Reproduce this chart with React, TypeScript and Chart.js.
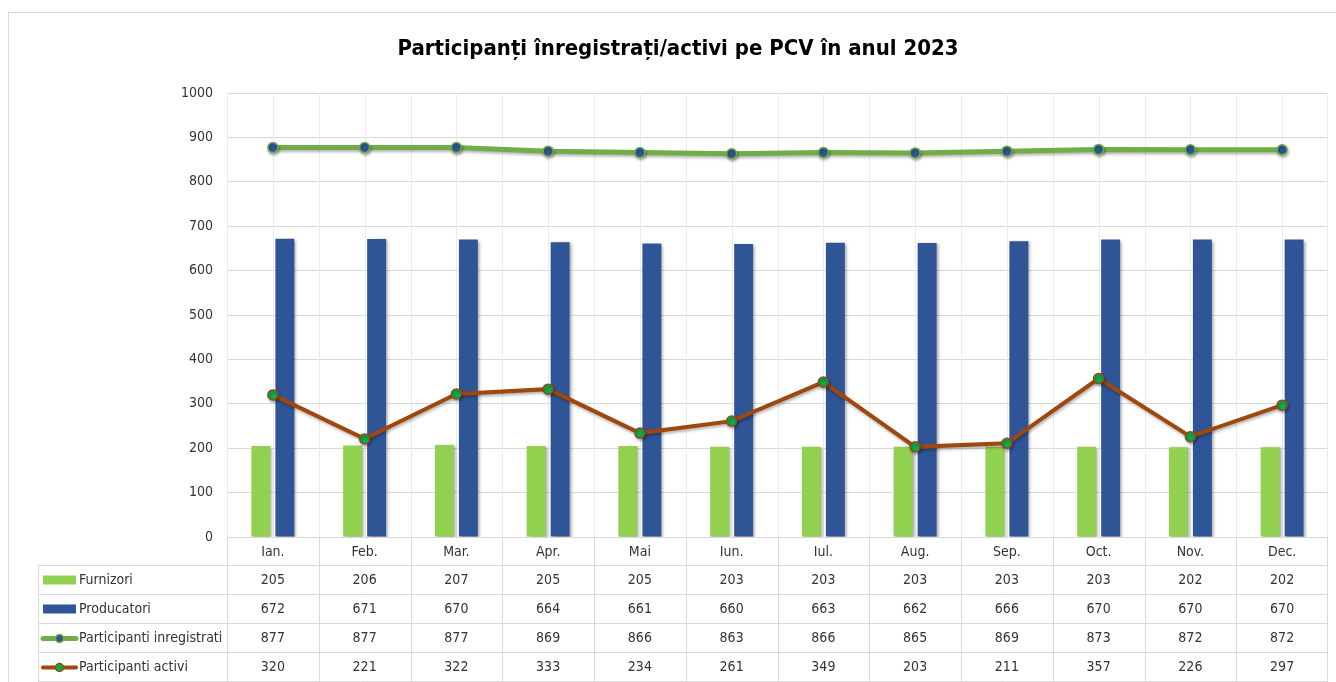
import React, { useEffect, useRef } from "react";
import { Chart, registerables } from "chart.js";

Chart.register(...registerables);

const TITLE = "Participanți înregistrați/activi pe PCV în anul 2023";
const months = ["Ian.", "Feb.", "Mar.", "Apr.", "Mai", "Iun.", "Iul.", "Aug.", "Sep.", "Oct.", "Nov.", "Dec."];
const furnizori = [205, 206, 207, 205, 205, 203, 203, 203, 203, 203, 202, 202];
const producatori = [672, 671, 670, 664, 661, 660, 663, 662, 666, 670, 670, 670];
const inregistrati = [877, 877, 877, 869, 866, 863, 866, 865, 869, 873, 872, 872];
const activi = [320, 221, 322, 333, 234, 261, 349, 203, 211, 357, 226, 297];
const seriesNames = ["Furnizori", "Producatori", "Participanti inregistrati", "Participanti activi"];
const yTicks = [0, 100, 200, 300, 400, 500, 600, 700, 800, 900, 1000];

const FONT = "'Liberation Sans Narrow', 'DejaVu Sans Condensed', Lato, sans-serif";
const GREEN_BAR = "#92D050";
const BLUE_BAR = "#2F5597";
const GREEN_LINE = "#70AD47";
const BROWN_LINE = "#9E480E";
const MARK_GREEN = "#00B050";
const TEXT = "#333333";
const GRID = "#d9d9d9";
const GRID_V = "#ebebeb";

const W = 1336;
const H = 682;

export default function App() {
  const ref = useRef<HTMLCanvasElement | null>(null);

  useEffect(() => {
    const canvas = ref.current;
    if (!canvas) return;
    document.body.style.overflow = "hidden";

    const shadowPlugin = {
      id: "shadows",
      beforeDatasetDraw(chart: any, args: any) {
        const ctx = chart.ctx;
        ctx.save();
        const type = chart.data.datasets[args.index].type;
        if (type === "bar") {
          ctx.shadowColor = "rgba(0,0,0,0.35)";
          ctx.shadowBlur = 3;
          ctx.shadowOffsetX = 2;
          ctx.shadowOffsetY = 1;
        } else {
          ctx.shadowColor = "rgba(0,0,0,0.3)";
          ctx.shadowBlur = 3;
          ctx.shadowOffsetX = 1;
          ctx.shadowOffsetY = 2;
        }
      },
      afterDatasetDraw(chart: any) {
        chart.ctx.restore();
      },
    };

    const vGridPlugin = {
      id: "vgrid",
      beforeDatasetsDraw(chart: any) {
        const ctx = chart.ctx;
        const xs = chart.scales.x;
        const area = chart.chartArea;
        const n = months.length;
        const cw = (area.right - area.left) / n;
        ctx.save();
        ctx.strokeStyle = GRID_V;
        ctx.lineWidth = 1;
        ctx.beginPath();
        for (let i = 0; i < n; i++) {
          const c = Math.round(xs.getPixelForValue(i)) + 0.5;
          ctx.moveTo(c, area.top);
          ctx.lineTo(c, area.bottom);
          const b = Math.round(xs.getPixelForValue(i) - cw / 2) + 0.5;
          ctx.moveTo(b, area.top);
          ctx.lineTo(b, area.bottom);
        }
        const r = Math.round(area.right) - 0.5;
        ctx.moveTo(r, area.top);
        ctx.lineTo(r, area.bottom);
        ctx.stroke();
        ctx.restore();
      },
    };

    const tablePlugin = {
      id: "table",
      afterDraw(chart: any) {
        const ctx = chart.ctx;
        const xs = chart.scales.x;
        const area = chart.chartArea;
        const n = months.length;
        const cw = (area.right - area.left) / n;
        const top = area.bottom;
        const rowH = 29;
        const leftX = 38;
        const rows = [furnizori, producatori, inregistrati, activi];
        ctx.save();

        // outer border
        ctx.strokeStyle = GRID;
        ctx.lineWidth = 1;
        ctx.strokeRect(8.5, 12.5, W + 20, H + 20);

        // title
        ctx.fillStyle = "#000";
        ctx.font = `bold 22px ${FONT}`;
        ctx.textAlign = "center";
        ctx.textBaseline = "middle";
        ctx.fillText(TITLE, 678, 49);

        // table grid lines
        ctx.strokeStyle = GRID;
        ctx.beginPath();
        ctx.moveTo(area.left, Math.round(top) + 0.5);
        ctx.lineTo(area.right, Math.round(top) + 0.5);
        for (let r = 1; r <= rows.length + 1; r++) {
          const y = Math.round(top + r * rowH) - 0.5;
          ctx.moveTo(leftX, y);
          ctx.lineTo(area.right, y);
        }
        for (let i = 0; i <= n; i++) {
          const b = i === n ? Math.round(area.right) - 0.5 : Math.round(xs.getPixelForValue(i) - cw / 2) + 0.5;
          ctx.moveTo(b, top);
          ctx.lineTo(b, H);
        }
        ctx.moveTo(leftX + 0.5, top + rowH);
        ctx.lineTo(leftX + 0.5, H);
        ctx.stroke();

        // month labels
        ctx.fillStyle = TEXT;
        ctx.font = `14px ${FONT}`;
        ctx.textAlign = "center";
        ctx.textBaseline = "middle";
        for (let i = 0; i < n; i++) {
          ctx.fillText(months[i], xs.getPixelForValue(i), top + rowH / 2 + 1);
        }
        // values
        rows.forEach((vals, r) => {
          const cy = top + rowH * (r + 1) + rowH / 2;
          for (let i = 0; i < n; i++) {
            ctx.fillText(String(vals[i]), xs.getPixelForValue(i), cy);
          }
        });

        // legend keys
        rows.forEach((_, r) => {
          const cy = top + rowH * (r + 1) + rowH / 2;
          if (r < 2) {
            ctx.fillStyle = r === 0 ? GREEN_BAR : BLUE_BAR;
            ctx.fillRect(43, cy - 5, 33, 9);
          } else {
            const lc = r === 2 ? GREEN_LINE : BROWN_LINE;
            const mc = r === 2 ? BLUE_BAR : MARK_GREEN;
            ctx.strokeStyle = lc;
            ctx.lineWidth = r === 2 ? 5 : 4;
            ctx.lineCap = "round";
            ctx.beginPath();
            ctx.moveTo(43, cy);
            ctx.lineTo(76, cy);
            ctx.stroke();
            ctx.fillStyle = mc;
            ctx.lineWidth = 1.5;
            ctx.beginPath();
            ctx.arc(59.5, cy, 4, 0, Math.PI * 2);
            ctx.fill();
            ctx.stroke();
          }
          ctx.fillStyle = TEXT;
          ctx.textAlign = "left";
          ctx.font = `14px ${FONT}`;
          ctx.fillText(seriesNames[r], 79, cy);
        });
        ctx.restore();
      },
    };

    const chart = new Chart(canvas, {
      type: "bar",
      data: {
        labels: months,
        datasets: [
          {
            type: "bar",
            label: seriesNames[0],
            data: furnizori,
            backgroundColor: GREEN_BAR,
            order: 2,
            categoryPercentage: 0.523,
            barPercentage: 0.79,
          },
          {
            type: "bar",
            label: seriesNames[1],
            data: producatori,
            backgroundColor: BLUE_BAR,
            order: 2,
            categoryPercentage: 0.523,
            barPercentage: 0.79,
          },
          {
            type: "line",
            label: seriesNames[2],
            data: inregistrati,
            borderColor: GREEN_LINE,
            borderWidth: 5,
            pointBackgroundColor: BLUE_BAR,
            pointBorderColor: GREEN_LINE,
            pointBorderWidth: 1.5,
            pointRadius: 5,
            order: 1,
            tension: 0,
          },
          {
            type: "line",
            label: seriesNames[3],
            data: activi,
            borderColor: BROWN_LINE,
            borderWidth: 4,
            pointBackgroundColor: MARK_GREEN,
            pointBorderColor: BROWN_LINE,
            pointBorderWidth: 1.5,
            pointRadius: 5,
            order: 0,
            tension: 0,
          },
        ] as any,
      },
      options: {
        responsive: false,
        animation: false,
        layout: { padding: { top: 93, left: 0, right: 8, bottom: 0 } },
        plugins: {
          legend: { display: false },
          title: { display: false },
          tooltip: { enabled: false },
        },
        scales: {
          x: {
            ticks: { display: false },
            grid: { display: false },
            border: { display: false },
            afterFit(s: any) {
              s.height = 145;
            },
          },
          y: {
            min: 0,
            max: 1000,
            afterBuildTicks(s: any) {
              s.ticks = yTicks.map((v) => ({ value: v }));
            },
            ticks: {
              padding: 14,
              color: TEXT,
              font: { family: FONT, size: 14 },
              callback: (v: any) => String(v),
            },
            grid: { color: GRID, drawTicks: false },
            border: { display: false },
            afterFit(s: any) {
              s.width = 227;
            },
          },
        },
      },
      plugins: [shadowPlugin, vGridPlugin, tablePlugin],
    });

    return () => chart.destroy();
  }, []);

  return (
    <canvas
      ref={ref}
      width={W}
      height={H}
      style={{ position: "fixed", left: 0, top: 0, width: W, height: H, background: "#fff" }}
    />
  );
}
